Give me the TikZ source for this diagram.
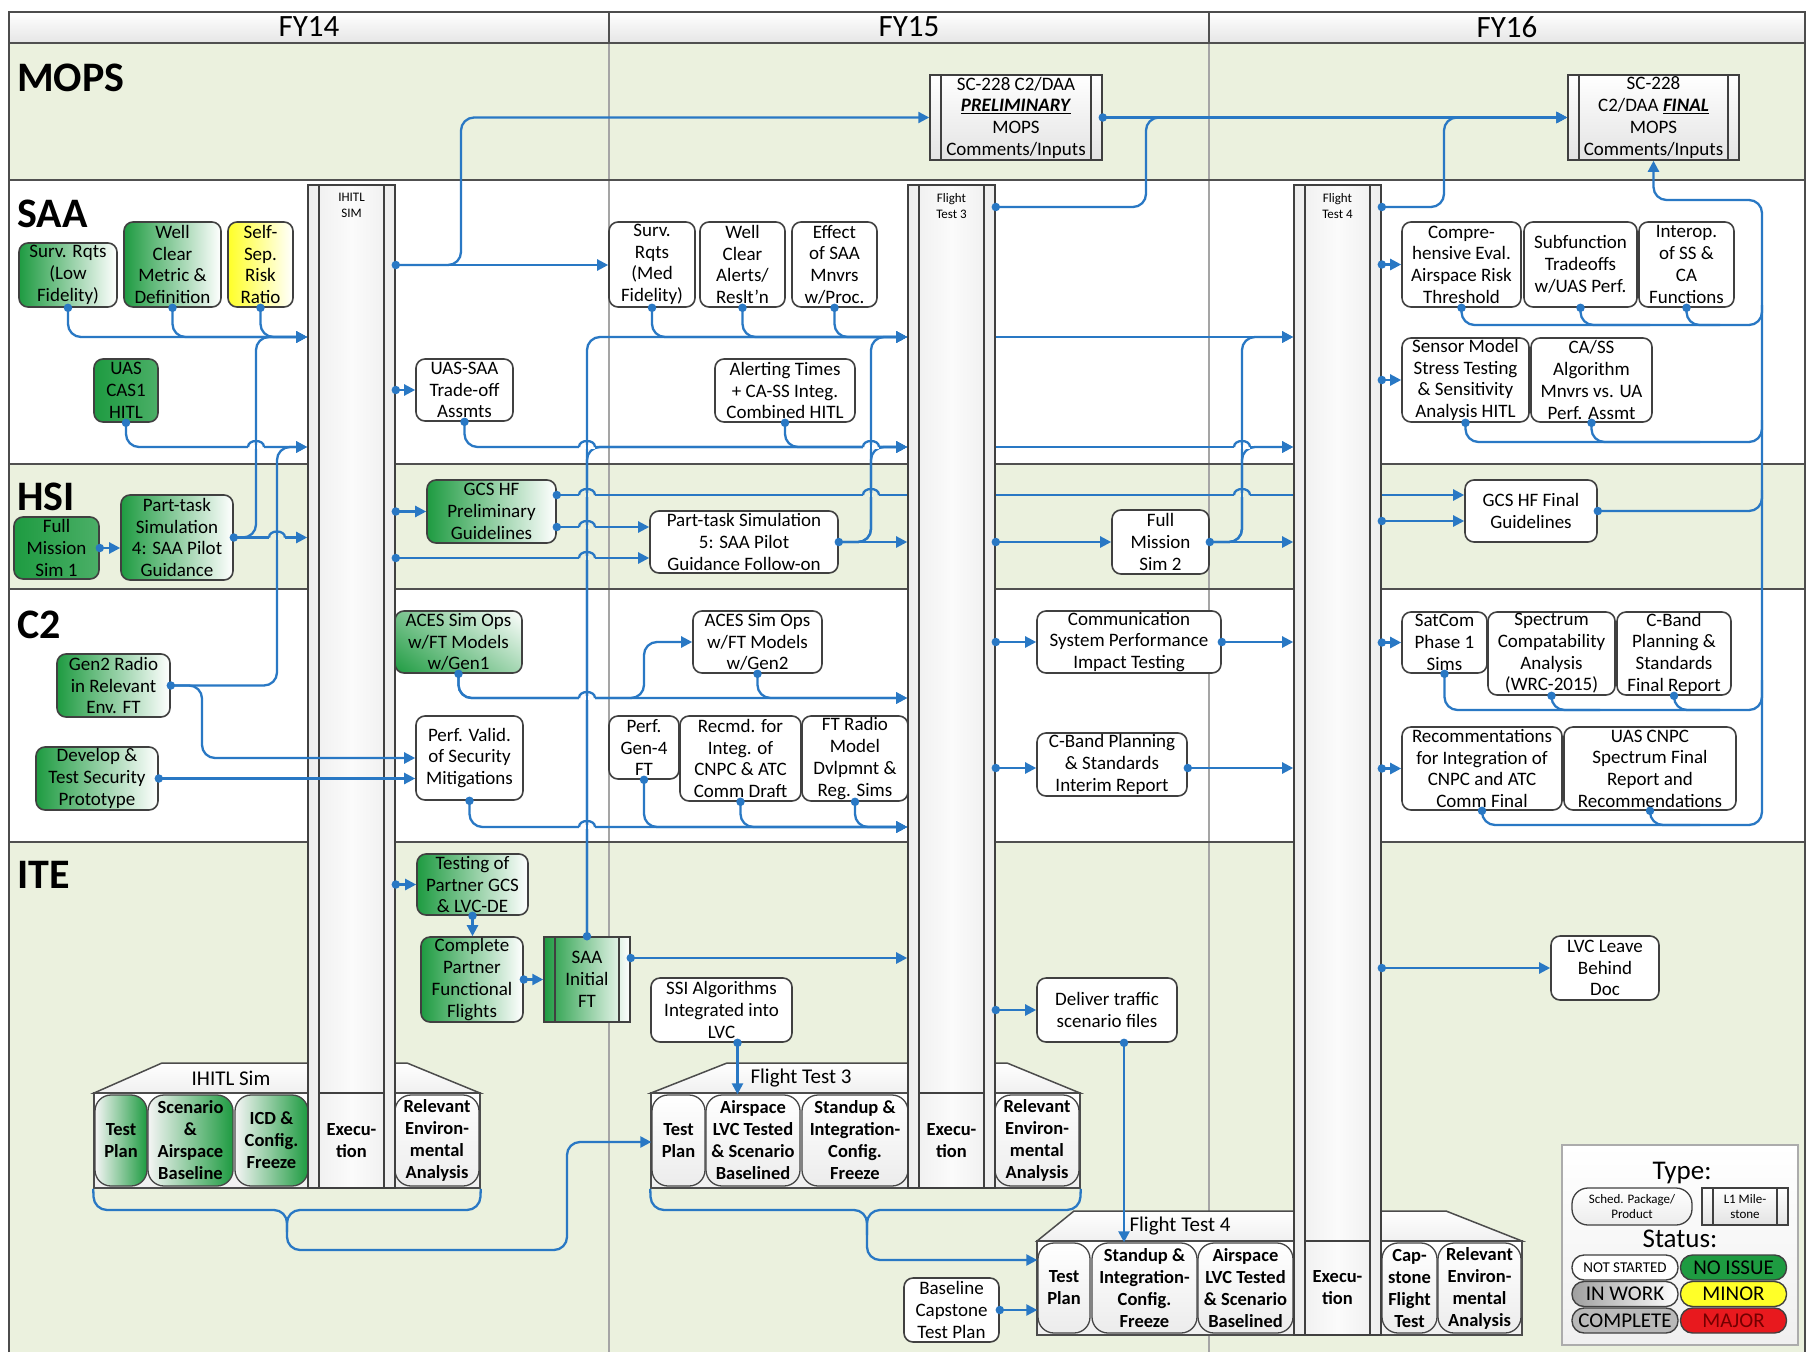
\documentclass[tikz,border=0pt]{standalone}
\usepackage{fontspec}
\setmainfont{Carlito}
\usetikzlibrary{arrows.meta,calc,shadings}
\definecolor{cblue}{RGB}{41,120,196}
\definecolor{lanegreen}{RGB}{235,241,222}
\definecolor{gbox}{RGB}{30,155,65}
\definecolor{ybox}{RGB}{255,255,40}
\definecolor{bord}{RGB}{64,64,64}
\definecolor{sepc}{RGB}{80,80,80}
\definecolor{yearc}{RGB}{165,165,165}
\definecolor{redpill}{RGB}{232,25,30}
\newcommand{\bxf}{\fontsize{19}{21.7}\selectfont}
\newcommand{\pkf}{\bfseries\fontsize{18.5}{22}\selectfont}
\newcommand{\clf}{\fontsize{13}{16}\selectfont}
\newcommand{\lnf}{\bfseries\fontsize{42}{42}\selectfont}
\newcommand{\hdf}{\fontsize{31}{31}\selectfont}
\newcommand{\plf}{\fontsize{21}{21}\selectfont}
\newcommand{\xjump}[3]{%
  \fill[#3] ({#1-8},{#2-2.3}) rectangle ({#1+8},{#2+2.3});
  \draw[cblue, line width=2.3pt] (#1,{#2-4}) -- (#1,{#2+4});
  \draw[cblue, line width=2.3pt] ({#1-8},#2) .. controls ({#1-8},{#2-8}) and ({#1+8},{#2-8}) .. ({#1+8},#2);
}
\tikzset{
  box/.style={draw=bord, line width=1.6pt, rounded corners=9pt, align=center, font=\bxf, inner sep=0pt},
  wbx/.style={box, fill=white},
  gbx/.style={box, left color=gbox, right color=white},
  sgbx/.style={box, left color=gbox, right color=gbox!80!white},
  ybx/.style={box, left color=ybox, right color=white},
  innerlines/.style={path picture={\draw[bord, line width=1.2pt]
      ([xshift=#1]path picture bounding box.north west) -- ([xshift=#1]path picture bounding box.south west)
      ([xshift=-#1]path picture bounding box.north east) -- ([xshift=-#1]path picture bounding box.south east);}},
  colm/.style={draw=bord, line width=1.6pt, left color=gray!14, right color=gray!14, middle color=gray!3, inner sep=0pt, innerlines=11pt},
  mile/.style={draw=bord, line width=1.5pt, top color=white, bottom color=gray!22, align=center, font=\bxf, inner sep=0pt, innerlines=11pt},
  gmile/.style={draw=bord, line width=1.5pt, left color=gbox, right color=white, align=center, font=\bxf, inner sep=0pt, innerlines=11pt},
  clbl/.style={font=\clf, align=center, inner sep=0pt},
  lanelbl/.style={font=\lnf, anchor=west, inner sep=0pt},
  hdr/.style={font=\hdf, inner sep=0pt},
  pkgline/.style={draw=gray!60!black, line width=1.5pt, top color=white, bottom color=gray!12},
  pkgbody/.style={draw=gray!60!black, line width=1.5pt, top color=white, bottom color=gray!12, inner sep=0pt},
  pklbl/.style={font=\plf, inner sep=0pt},
  pbx/.style={draw=gray!55!black, line width=1.3pt, rounded corners=16pt, align=center, font=\pkf, inner sep=0pt},
  pgbx/.style={pbx, left color=gray!8, right color=gbox},
  pwbx/.style={pbx, top color=white, bottom color=gray!15},
  conn/.style={draw=cblue, line width=2.3pt, rounded corners=13pt},
  arr/.style={-{Triangle[length=11pt,width=11pt]}},
  dotn/.style={circle, fill=cblue, draw=none, inner sep=0pt, minimum size=8.5pt},
  pill/.style={draw=bord, line width=1.4pt, rounded corners=12pt, minimum width=106pt, minimum height=25pt, inner sep=0pt, font=\plf},
}
\begin{document}
\begin{tikzpicture}[x=1pt,y=-1pt]
\useasboundingbox (0,0) rectangle (1807,1352);
% ---------- backgrounds ----------
\fill[white] (0,0) rectangle (1807,1352);
\fill[lanegreen] (9,43) rectangle (1805,180);
\fill[lanegreen] (9,464) rectangle (1805,589);
\fill[lanegreen] (9,842) rectangle (1805,1352);
\shade[top color=white, bottom color=gray!20] (9,12) rectangle (1805,43);
\draw[yearc, line width=1.6pt] (609,43) -- (609,1352) (1209,43) -- (1209,1352);
\draw[sepc, line width=1.8pt] (609,12) -- (609,43) (1209,12) -- (1209,43);
\draw[sepc, line width=2.6pt] (9,43) -- (1805,43) (9,180) -- (1805,180) (9,464) -- (1805,464) (9,589) -- (1805,589) (9,842) -- (1805,842);
\draw[gray!60!black, line width=2pt] (9,1352) -- (9,12) -- (1805,12) -- (1805,1352);
\node[hdr] at (309,27) {FY14};
\node[hdr] at (909,27) {FY15};
\node[hdr] at (1507,27) {FY16};
\node[lanelbl] at (17,78) {MOPS};
\node[lanelbl] at (17,214) {SAA};
\node[lanelbl] at (17,497) {HSI};
\node[lanelbl] at (17,625) {C2};
\node[lanelbl] at (17,875) {ITE};
% ---------- packages ----------
\draw[pkgline] (94,1093) -- (162,1063) -- (407,1063) -- (480,1093) -- cycle;
\node[pkgbody, minimum width=386pt, minimum height=95pt] (ihitlpkg) at (287,1140.5) {};
\node[pklbl] at (231,1078) {IHITL Sim};
\node[pgbx, minimum width=52pt, minimum height=91pt] (tp1) at (121,1140.5) {Test\\Plan};
\node[pgbx, minimum width=85pt, minimum height=91pt] (scen1) at (190.5,1140.5) {Scenario\\\&\\Airspace\\Baseline};
\node[pgbx, minimum width=73pt, minimum height=91pt] (icd1) at (271.5,1140.5) {ICD \&\\Config.\\Freeze};
\node[pwbx, minimum width=84pt, minimum height=91pt] (rel1) at (437,1140.5) {Relevant\\Environ-\\mental\\Analysis};

\draw[pkgline] (651,1093) -- (727,1063) -- (1007,1063) -- (1080,1093) -- cycle;
\node[pkgbody, minimum width=429pt, minimum height=95pt] (ft3pkg) at (865.5,1140.5) {};
\node[pklbl] at (801,1078) {Flight Test 3};
\node[pwbx, minimum width=53pt, minimum height=91pt] (test3) at (678.5,1140.5) {Test\\Plan};
\node[pwbx, minimum width=94pt, minimum height=91pt] (airsp3) at (753,1140.5) {Airspace\\LVC Tested\\\& Scenario\\Baselined};
\node[pwbx, minimum width=106pt, minimum height=91pt] (standup3) at (855,1140.5) {Standup \&\\Integration-\\Config.\\Freeze};
\node[pwbx, minimum width=84pt, minimum height=91pt] (rel3) at (1037,1140.5) {Relevant\\Environ-\\mental\\Analysis};

\draw[pkgline] (1037,1241) -- (1074,1211) -- (1446,1211) -- (1522,1241) -- cycle;
\node[pkgbody, minimum width=485pt, minimum height=94pt] (ft4pkg) at (1279.5,1288) {};
\node[pklbl] at (1180,1226) {Flight Test 4};
\node[pwbx, minimum width=52pt, minimum height=90pt] (test4) at (1064,1288) {Test\\Plan};
\node[pwbx, minimum width=105pt, minimum height=90pt] (standup4) at (1144.5,1288) {Standup \&\\Integration-\\Config.\\Freeze};
\node[pwbx, minimum width=95pt, minimum height=90pt] (airsp4) at (1245.5,1288) {Airspace\\LVC Tested\\\& Scenario\\Baselined};
\node[pwbx, minimum width=55pt, minimum height=90pt] (cap4) at (1409.5,1288) {Cap-\\stone\\Flight\\Test};
\node[pwbx, minimum width=83pt, minimum height=90pt] (rel4) at (1479.5,1288) {Relevant\\Environ-\\mental\\Analysis};
% ---------- columns ----------
\node[colm, minimum width=87pt, minimum height=1003pt] (ihitl) at (351.5,686.5) {};
\node[colm, minimum width=87pt, minimum height=1003pt] (ft3) at (951.5,686.5) {};
\node[colm, minimum width=87pt, minimum height=1150pt] (ft4) at (1337.5,760) {};
\node[clbl, anchor=north] at ([yshift=-9pt]ihitl.north) {IHITL\\SIM};
\node[clbl, anchor=north] at ([yshift=-9pt]ft3.north) {Flight\\Test 3};
\node[clbl, anchor=north] at ([yshift=-9pt]ft4.north) {Flight\\Test 4};
\draw[bord, line width=1.3pt] ([xshift=11pt]ihitl.west |- 0,1093) -- ([xshift=-11pt]ihitl.east |- 0,1093);
\draw[bord, line width=1.3pt] ([xshift=11pt]ft3.west |- 0,1093) -- ([xshift=-11pt]ft3.east |- 0,1093);
\draw[bord, line width=1.3pt] ([xshift=11pt]ft4.west |- 0,1241) -- ([xshift=-11pt]ft4.east |- 0,1241);
\node[font=\pkf, align=center] (exec1) at (351.5,1140.5) {Execu-\\tion};
\node[font=\pkf, align=center] (exec3) at (951.5,1140.5) {Execu-\\tion};
\node[font=\pkf, align=center] (exec4) at (1337.5,1288) {Execu-\\tion};
% ---------- MOPS ----------
\node[mile, minimum width=172pt, minimum height=85pt] (prelim) at (1016,117.5) {SC-228 C2/DAA\\\underline{\textbf{\textit{PRELIMINARY}}}\\MOPS\\Comments/Inputs};
\node[mile, minimum width=171pt, minimum height=85pt] (final) at (1653.5,117.5) {SC-228\\C2/DAA \underline{\textbf{\textit{FINAL}}}\\MOPS\\Comments/Inputs};
% ---------- SAA ----------
\node[gbx, minimum width=98pt, minimum height=64pt] (survlow) at (68,275) {Surv. Rqts\\(Low\\Fidelity)};
\node[gbx, minimum width=97pt, minimum height=85pt] (wellclear) at (172.5,264.5) {Well\\Clear\\Metric \&\\Definition};
\node[ybx, minimum width=65pt, minimum height=85pt] (selfsep) at (260.5,264.5) {Self-\\Sep.\\Risk\\Ratio};
\node[sgbx, minimum width=64pt, minimum height=63pt] (uascas) at (126,390.5) {UAS\\CAS1\\HITL};
\node[wbx, minimum width=97pt, minimum height=62pt] (uassaa) at (464.5,390) {UAS-SAA\\Trade-off\\Assmts};
\node[wbx, minimum width=86pt, minimum height=85pt] (survmed) at (652,264.5) {Surv.\\Rqts\\(Med\\Fidelity)};
\node[wbx, minimum width=85pt, minimum height=85pt] (wcalerts) at (742.5,264.5) {Well\\Clear\\Alerts/\\Reslt'n};
\node[wbx, minimum width=85pt, minimum height=85pt] (effect) at (834.5,264.5) {Effect\\of SAA\\Mnvrs\\w/Proc.};
\node[wbx, minimum width=140pt, minimum height=63pt] (alerting) at (785,390.5) {Alerting Times\\+ CA-SS Integ.\\Combined HITL};
\node[wbx, minimum width=119pt, minimum height=85pt] (compre) at (1461.5,264.5) {Compre-\\hensive Eval.\\Airspace Risk\\Threshold};
\node[wbx, minimum width=113pt, minimum height=85pt] (subfn) at (1580.5,264.5) {Subfunction\\Tradeoffs\\w/UAS Perf.};
\node[wbx, minimum width=95pt, minimum height=85pt] (interop) at (1686.5,264.5) {Interop.\\of SS \&\\CA\\Functions};
\node[wbx, minimum width=127pt, minimum height=84pt] (sensor) at (1465.5,380) {Sensor Model\\Stress Testing\\\& Sensitivity\\Analysis HITL};
\node[wbx, minimum width=121pt, minimum height=84pt] (cass) at (1591.5,380) {CA/SS\\Algorithm\\Mnvrs vs. UA\\Perf. Assmt};
% ---------- HSI ----------
\node[sgbx, minimum width=85pt, minimum height=62pt] (fms1) at (56.5,548) {Full\\Mission\\Sim 1};
\node[gbx, minimum width=112pt, minimum height=85pt] (pt4) at (177,537.5) {Part-task\\Simulation\\4: SAA Pilot\\Guidance};
\node[gbx, minimum width=129pt, minimum height=63pt] (gcsprelim) at (491.5,511.5) {GCS HF\\Preliminary\\Guidelines};
\node[wbx, minimum width=188pt, minimum height=62pt] (pt5) at (744,542) {Part-task Simulation\\5: SAA Pilot\\Guidance Follow-on};
\node[wbx, minimum width=97pt, minimum height=64pt] (fms2) at (1160.5,542) {Full\\Mission\\Sim 2};
\node[wbx, minimum width=132pt, minimum height=62pt] (gcsfinal) at (1531,511) {GCS HF Final\\Guidelines};
% ---------- C2 ----------
\node[gbx, minimum width=113pt, minimum height=63pt] (gen2) at (113.5,685.5) {Gen2 Radio\\in Relevant\\Env. FT};
\node[gbx, minimum width=122pt, minimum height=63pt] (develop) at (97,778.5) {Develop \&\\Test Security\\Prototype};
\node[box, minimum width=127pt, minimum height=62pt, lower left=gbox, upper right=white, lower right=white!60!gbox, upper left=white!40!gbox] (acesgen1) at (458.5,642) {ACES Sim Ops\\w/FT Models\\w/Gen1};
\node[wbx, minimum width=107pt, minimum height=84pt] (perfvalid) at (469.5,758) {Perf. Valid.\\of Security\\Mitigations};
\node[wbx, minimum width=129pt, minimum height=62pt] (acesgen2) at (757.5,642) {ACES Sim Ops\\w/FT Models\\w/Gen2};
\node[wbx, minimum width=70pt, minimum height=63pt] (gen4) at (644,747.5) {Perf.\\Gen-4\\FT};
\node[wbx, minimum width=121pt, minimum height=85pt] (recmd) at (740.5,758.5) {Recmd. for\\Integ. of\\CNPC \& ATC\\Comm Draft};
\node[wbx, minimum width=106pt, minimum height=85pt] (ftradio) at (855,758.5) {FT Radio\\Model\\Dvlpmnt \&\\Reg. Sims};
\node[wbx, minimum width=184pt, minimum height=62pt] (commsys) at (1129,642) {Communication\\System Performance\\Impact Testing};
\node[wbx, minimum width=150pt, minimum height=63pt] (cbandint) at (1112,764.5) {C-Band Planning\\\& Standards\\Interim Report};
\node[wbx, minimum width=85pt, minimum height=61pt] (satcom) at (1444.5,642.5) {SatCom\\Phase 1\\Sims};
\node[wbx, minimum width=127pt, minimum height=83pt] (spectrum) at (1551.5,653.5) {Spectrum\\Compatability\\Analysis\\(WRC-2015)};
\node[wbx, minimum width=114pt, minimum height=83pt] (cbandfin) at (1674,653.5) {C-Band\\Planning \&\\Standards\\Final Report};
\node[wbx, minimum width=160pt, minimum height=83pt] (recomm) at (1482,768.5) {Recommentations\\for Integration of\\CNPC and ATC\\Comm Final};
\node[wbx, minimum width=172pt, minimum height=83pt] (uascnpc) at (1650,768.5) {UAS CNPC\\Spectrum Final\\Report and\\Recommendations};
% ---------- ITE ----------
\node[gbx, minimum width=111pt, minimum height=61pt] (testpartner) at (472.5,884.5) {Testing of\\Partner GCS\\\& LVC-DE};
\node[gbx, minimum width=102pt, minimum height=85pt] (complete) at (472,979.5) {Complete\\Partner\\Functional\\Flights};
\node[gmile, minimum width=86pt, minimum height=85pt] (saainit) at (587,979.5) {SAA\\Initial\\FT};
\node[wbx, minimum width=141pt, minimum height=64pt] (ssi) at (721.5,1010) {SSI Algorithms\\Integrated into\\LVC};
\node[wbx, minimum width=140pt, minimum height=64pt] (deliver) at (1107,1010) {Deliver traffic\\scenario files};
\node[wbx, minimum width=108pt, minimum height=64pt] (lvc) at (1605,968) {LVC Leave\\Behind\\Doc};
\node[wbx, minimum width=95pt, minimum height=64pt] (baseline) at (951.5,1310) {Baseline\\Capstone\\Test Plan};
% ---------- legend ----------
\node[draw=gray!65, line width=1.5pt, top color=white, bottom color=gray!12, minimum width=236pt, minimum height=200pt, inner sep=0pt] (legend) at (1680,1245) {};
\node[font=\fontsize{27}{27}\selectfont, inner sep=0pt] (ltype) at (1682,1173) {Type:};
\node[draw=bord, line width=1.3pt, rounded corners=16pt, top color=white, bottom color=gray!15, minimum width=120pt, minimum height=37pt, inner sep=0pt, align=center, font=\fontsize{13}{15}\selectfont] (lpkg) at (1632,1206.5) {Sched. Package/\\Product};
\node[mile, innerlines=11pt, minimum width=86pt, minimum height=37pt, font=\fontsize{13}{15}\selectfont] (lmile) at (1745,1206.5) {L1 Mile-\\stone};
\node[font=\fontsize{27}{27}\selectfont, inner sep=0pt] (lstatus) at (1680,1239) {Status:};
\node[pill, fill=white, font=\fontsize{15}{15}\selectfont] (lns) at (1625,1267.5) {NOT STARTED};
\node[pill, fill=gbox] (lnoi) at (1733.5,1267.5) {NO ISSUE};
\node[pill, left color=gray!75, right color=white] (liw) at (1625,1294) {IN WORK};
\node[pill, fill=ybox] (lmin) at (1733.5,1294) {MINOR};
\node[pill, fill=gray!55] (lcomp) at (1625,1320.5) {COMPLETE};
\node[pill, fill=redpill, text=red!45!black] (lmaj) at (1733.5,1320.5) {MAJOR};
% ---------- connectors: MOPS ----------
\draw[conn,arr] (ihitl.east |- 0,265) node[dotn]{} -- (461,265) -- (461,117.5) -- (prelim.west);
\draw[conn,arr] (ihitl.east |- 0,265) -- (survmed.west |- 0,265);
\draw[conn,arr] (prelim.east) node[dotn]{} -- (final.west);
\draw[conn,arr] (ft3.east |- 0,207) node[dotn]{} -- (1146,207) -- (1146,117.5) -- (final.west);
\draw[conn,arr] (ft4.east |- 0,207) node[dotn]{} -- (1444,207) -- (1444,117.5) -- (final.west);
% feedback to FINAL
\draw[conn,arr] (recomm.south) node[dotn]{} -- (recomm.south |- 0,825) -- (1762,825) -- (1762,200) -- (final.south |- 0,200) -- (final.south);
\draw[conn] (uascnpc.south) node[dotn]{} -- (uascnpc.south |- 0,825) -- (1700,825);
\draw[conn] (satcom.south) node[dotn]{} -- (satcom.south |- 0,710) -- (1762,710) -- (1762,680);
\draw[conn] (spectrum.south) node[dotn]{} -- (spectrum.south |- 0,710) -- (1600,710);
\draw[conn] (cbandfin.south) node[dotn]{} -- (cbandfin.south |- 0,710) -- (1720,710);
\draw[conn] (gcsfinal.east) node[dotn]{} -- (1762,511) -- (1762,490);
\draw[conn] (sensor.south) node[dotn]{} -- (sensor.south |- 0,442) -- (1762,442) -- (1762,420);
\draw[conn] (cass.south) node[dotn]{} -- (cass.south |- 0,442) -- (1700,442);
\draw[conn] (compre.south) node[dotn]{} -- (compre.south |- 0,325) -- (1762,325) -- (1762,305);
\draw[conn] (subfn.south) node[dotn]{} -- (subfn.south |- 0,325) -- (1650,325);
\draw[conn] (interop.south) node[dotn]{} -- (interop.south |- 0,325) -- (1720,325);
% ---------- FY14 into IHITL ----------
\draw[conn,arr] (survlow.south) node[dotn]{} -- (survlow.south |- 0,337) -- (ihitl.west |- 0,337);
\draw[conn,arr] (wellclear.south) node[dotn]{} -- (wellclear.south |- 0,337) -- (ihitl.west |- 0,337);
\draw[conn,arr] (selfsep.south) node[dotn]{} -- (selfsep.south |- 0,337) -- (ihitl.west |- 0,337);
\draw[conn,arr] (pt4.east) node[dotn]{} -- (256,537.5) -- (256,337) -- (ihitl.west |- 0,337);
\draw[conn,arr] (pt4.east) -- (ihitl.west |- pt4.east);
\draw[conn,arr] (uascas.south) node[dotn]{} -- (uascas.south |- 0,447) -- (ihitl.west |- 0,447);
\draw[conn,arr] (gen2.east) node[dotn]{} -- (277,685.5) -- (277,447) -- (ihitl.west |- 0,447);
\draw[conn,arr] (gen2.east) -- (202,685.5) -- (202,758) -- (perfvalid.west |- 0,758);
\draw[conn,arr] (develop.east) node[dotn]{} -- (perfvalid.west |- develop.east);
\draw[conn,arr] (fms1.east) node[dotn]{} -- (pt4.west |- fms1.east);
% ---------- IHITL outputs ----------
\draw[conn,arr] (ihitl.east |- uassaa.west) node[dotn]{} -- (uassaa.west);
\draw[conn,arr] (ihitl.east |- gcsprelim.west) node[dotn]{} -- (gcsprelim.west);
\draw[conn,arr] (ihitl.east |- 0,558) node[dotn]{} -- (pt5.west |- 0,558);
\draw[conn,arr] (ihitl.east |- testpartner.west) node[dotn]{} -- (testpartner.west);
% ---------- into FT3 ----------
\draw[conn,arr] (survmed.south) node[dotn]{} -- (survmed.south |- 0,337) -- (ft3.west |- 0,337);
\draw[conn,arr] (wcalerts.south) node[dotn]{} -- (wcalerts.south |- 0,337) -- (ft3.west |- 0,337);
\draw[conn,arr] (effect.south) node[dotn]{} -- (effect.south |- 0,337) -- (ft3.west |- 0,337);
\draw[conn,arr] (saainit.north) node[dotn]{} -- (saainit.north |- 0,337) -- (ft3.west |- 0,337);
\draw[conn,arr] (saainit.north) -- (saainit.north |- 0,447) -- (ft3.west |- 0,447);
\draw[conn,arr] (uassaa.south) node[dotn]{} -- (uassaa.south |- 0,447) -- (ft3.west |- 0,447);
\draw[conn,arr] (alerting.south) node[dotn]{} -- (alerting.south |- 0,447) -- (ft3.west |- 0,447);
\draw[conn,arr] (pt5.east) node[dotn]{} -- (871,542) -- (871,337) -- (ft3.west |- 0,337);
\draw[conn,arr] (pt5.east) -- (871,542) -- (871,447) -- (ft3.west |- 0,447);
\draw[conn,arr] (pt5.east) -- (ft3.west |- pt5.east);
\draw[conn,arr] (gcsprelim.east |- 0,527) node[dotn]{} -- (pt5.west |- 0,527);
\draw[conn] (gcsprelim.east |- 0,495) node[dotn]{} -- (ft3.west |- 0,495);
\draw[conn] (ft3.east |- 0,495) -- (ft4.west |- 0,495);
\draw[conn,arr] (ft4.east |- 0,495) -- (gcsfinal.west |- 0,495);
\draw[conn,arr] (acesgen1.south) node[dotn]{} -- (acesgen1.south |- 0,698) -- (ft3.west |- 0,698);
\draw[conn,arr] (acesgen1.south) -- (acesgen1.south |- 0,698) -- (644,698) -- (644,642) -- (acesgen2.west);
\draw[conn,arr] (acesgen2.south) node[dotn]{} -- (acesgen2.south |- 0,698) -- (ft3.west |- 0,698);
\draw[conn,arr] (perfvalid.south) node[dotn]{} -- (perfvalid.south |- 0,827) -- (ft3.west |- 0,827);
\draw[conn,arr] (gen4.south) node[dotn]{} -- (gen4.south |- 0,827) -- (ft3.west |- 0,827);
\draw[conn,arr] (recmd.south) node[dotn]{} -- (recmd.south |- 0,827) -- (ft3.west |- 0,827);
\draw[conn,arr] (ftradio.south) node[dotn]{} -- (ftradio.south |- 0,827) -- (ft3.west |- 0,827);
\draw[conn,arr] (testpartner.south) node[dotn]{} -- (testpartner.south |- complete.north);
\draw[conn,arr] (complete.east) node[dotn]{} -- (saainit.west);
\draw[conn,arr] (saainit.east |- 0,958) node[dotn]{} -- (ft3.west |- 0,958);
\draw[conn,arr] ([xshift=16pt]ssi.south) node[dotn]{} -- ([xshift=16pt]ssi.south |- airsp3.north);
% ---------- FT3 outputs / into FT4 ----------
\draw[conn,arr] (ft3.east |- 0,337) -- (ft4.west |- 0,337);
\draw[conn,arr] (ft3.east |- 0,447) -- (ft4.west |- 0,447);
\draw[conn,arr] (ft3.east |- fms2.west) node[dotn]{} -- (fms2.west);
\draw[conn,arr] (fms2.east) node[dotn]{} -- (ft4.west |- fms2.east);
\draw[conn,arr] (fms2.east) -- (1242,542) -- (1242,337) -- (ft4.west |- 0,337);
\draw[conn,arr] (fms2.east) -- (1242,542) -- (1242,447) -- (ft4.west |- 0,447);
\draw[conn,arr] (ft3.east |- commsys.west) node[dotn]{} -- (commsys.west);
\draw[conn,arr] (commsys.east) node[dotn]{} -- (ft4.west |- commsys.east);
\draw[conn,arr] (ft3.east |- 0,768) node[dotn]{} -- (cbandint.west |- 0,768);
\draw[conn,arr] (cbandint.east |- 0,768) node[dotn]{} -- (ft4.west |- 0,768);
\draw[conn,arr] (ft3.east |- deliver.west) node[dotn]{} -- (deliver.west);
\draw[conn,arr] ([xshift=17pt]deliver.south) node[dotn]{} -- ([xshift=17pt]deliver.south |- standup4.north);
% ---------- FT4 outputs ----------
\draw[conn,arr] (ft4.east |- compre.west) node[dotn]{} -- (compre.west);
\draw[conn,arr] (ft4.east |- sensor.west) node[dotn]{} -- (sensor.west);
\draw[conn,arr] (ft4.east |- 0,521) node[dotn]{} -- (gcsfinal.west |- 0,521);
\draw[conn,arr] (ft4.east |- satcom.west) node[dotn]{} -- (satcom.west);
\draw[conn,arr] (ft4.east |- recomm.west) node[dotn]{} -- (recomm.west);
\draw[conn,arr] (ft4.east |- lvc.west) node[dotn]{} -- (lvc.west);
% ---------- package braces ----------
\draw[conn,arr] (ihitlpkg.south west) -- (94,1210) -- (287,1210) -- (287,1250) -- (567,1250) -- (567,1142) -- (test3.west |- 0,1142);
\draw[conn] (ihitlpkg.south east) -- (480,1210) -- (287,1210) -- (287,1232);
\draw[conn,arr] (ft3pkg.south west) -- (651,1210) -- (867,1210) -- (867,1260) -- (test4.west |- 0,1260);
\draw[conn] (ft3pkg.south east) -- (1080,1210) -- (867,1210) -- (867,1235);
\draw[conn,arr] (baseline.east) node[dotn]{} -- (test4.west |- baseline.east);
% ---------- line jumps at crossings ----------
\xjump{256}{447}{white}
\xjump{277}{537.5}{lanegreen}
\xjump{587}{447}{white}
\xjump{587}{495}{lanegreen}
\xjump{587}{527}{lanegreen}
\xjump{587}{558}{lanegreen}
\xjump{587}{698}{white}
\xjump{587}{827}{white}
\xjump{871}{447}{white}
\xjump{871}{495}{lanegreen}
\xjump{1242}{447}{white}
\xjump{1242}{495}{lanegreen}
\end{tikzpicture}
\end{document}
